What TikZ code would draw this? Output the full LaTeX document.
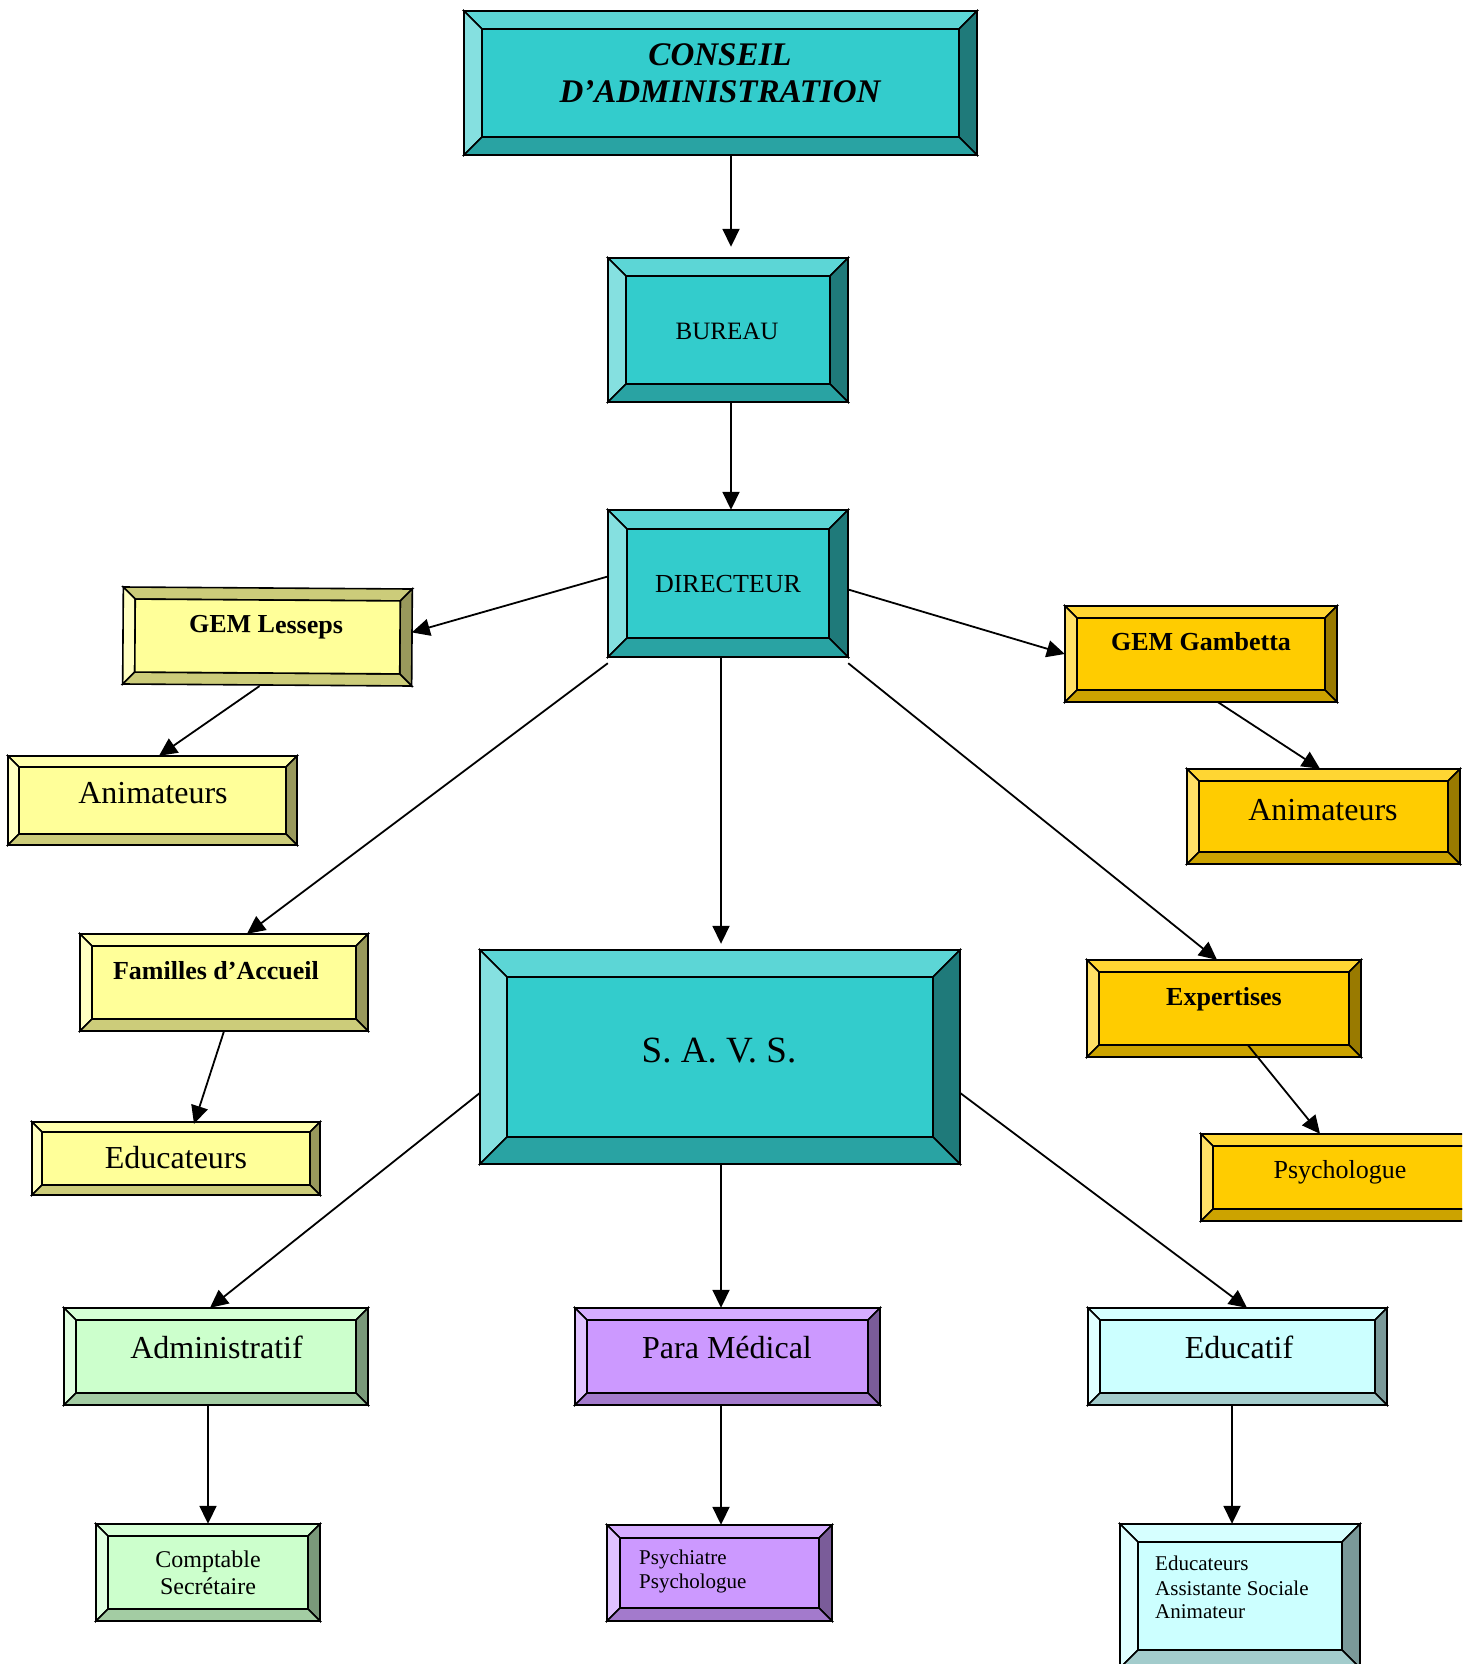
\documentclass[tikz,border=0pt]{standalone}
\usepackage{fontspec}
\setmainfont{Liberation Serif}
\usetikzlibrary{arrows.meta,calc,fit}
\definecolor{tealc}{HTML}{33CCCC}
\definecolor{ylwc}{HTML}{FFFF99}
\definecolor{goldc}{HTML}{FFCC00}
\definecolor{grnc}{HTML}{CCFFCC}
\definecolor{purc}{HTML}{CC99FF}
\definecolor{cync}{HTML}{CCFFFF}
\tikzset{
  bev/.style={draw=black, line width=1.6pt, line join=miter},
  arr/.style={line width=1.8pt, -{Triangle[length=18pt,width=17pt]}},
  lbl/.style={anchor=base, inner sep=0pt},
  lblw/.style={anchor=base west, inner sep=0pt},
  fbig/.style={font=\fontsize{32}{36}\selectfont},
  fmid/.style={font=\fontsize{26}{30}\selectfont},
  fbold/.style={font=\fontsize{26}{30}\selectfont\bfseries},
  fsmall/.style={font=\fontsize{24}{28}\selectfont},
  ftiny/.style={font=\fontsize{21}{24}\selectfont},
}
% #1 name, #2 x1, #3 y1, #4 x2, #5 y2, #6 bevel, #7 colour, #8 top colour
\newcommand\bevbox[8]{%
  \begin{scope}[bev]
    \filldraw[fill=#8] (#2,#3) -- (#4,#3) -- ({#4-#6},{#3+#6}) -- ({#2+#6},{#3+#6}) -- cycle;
    \filldraw[fill=#7!60!white] (#2,#3) -- ({#2+#6},{#3+#6}) -- ({#2+#6},{#5-#6}) -- (#2,#5) -- cycle;
    \filldraw[fill=#7!60!black] (#4,#3) -- (#4,#5) -- ({#4-#6},{#5-#6}) -- ({#4-#6},{#3+#6}) -- cycle;
    \filldraw[fill=#7!80!black] (#2,#5) -- (#4,#5) -- ({#4-#6},{#5-#6}) -- ({#2+#6},{#5-#6}) -- cycle;
    \filldraw[fill=#7] ({#2+#6},{#3+#6}) rectangle ({#4-#6},{#5-#6});
  \end{scope}
  \coordinate (#1-a) at (#2,#3);
  \coordinate (#1-b) at (#4,#5);
  \node[fit=(#1-a)(#1-b), inner sep=0pt] (#1) {};
}
\begin{document}
\begin{tikzpicture}[x=1pt,y=-1pt]
\useasboundingbox[fill=white] (0,0) rectangle (1469,1664);
\begin{scope}
\clip (0,0) rectangle (1462,1664);

% boxes
\bevbox{conseil}{464}{11}{977}{155}{18}{tealc}{tealc!80!white}
\bevbox{bureau}{608}{258}{848}{402}{18}{tealc}{tealc!80!white}
\bevbox{dir}{608}{510}{848}{657}{19}{tealc}{tealc!80!white}
\begin{scope}[rotate around={-0.4:(267,636)}]
\bevbox{lesseps}{123}{588}{412}{685}{12}{ylwc}{ylwc!80!black}
\end{scope}
\bevbox{animL}{8}{756}{297}{845}{11}{ylwc}{ylwc!80!white}
\bevbox{familles}{80}{934}{368}{1031}{12}{ylwc}{ylwc!80!white}
\bevbox{educL}{32}{1122}{320}{1195}{10}{ylwc}{ylwc!80!white}
\bevbox{gambetta}{1065}{606}{1337}{702}{12}{goldc}{goldc!80!white}
\bevbox{animR}{1187}{769}{1460}{864}{12}{goldc}{goldc!80!white}
\bevbox{expertises}{1087}{960}{1361}{1057}{12}{goldc}{goldc!80!white}
\bevbox{psychR}{1201}{1134}{1479}{1221}{12}{goldc}{goldc!80!white}
\bevbox{savs}{480}{950}{960}{1164}{27}{tealc}{tealc!80!white}
\bevbox{admin}{64}{1308}{368}{1405}{12}{grnc}{grnc!80!white}
\bevbox{para}{575}{1308}{880}{1405}{12}{purc}{purc!80!white}
\bevbox{educatif}{1088}{1308}{1387}{1405}{12}{cync}{cync!80!white}
\bevbox{compt}{96}{1524}{320}{1621}{12}{grnc}{grnc!80!white}
\bevbox{psy}{607}{1525}{832}{1621}{13}{purc}{purc!80!white}
\bevbox{educR}{1120}{1524}{1360}{1668}{18}{cync}{cync!80!white}

% texts
\node[lbl, font=\fontsize{33}{37}\selectfont\bfseries\itshape] (conseil-t1) at (720,66) {CONSEIL};
\node[lbl, font=\fontsize{33}{37}\selectfont\bfseries\itshape] (conseil-t2) at (720,103) {D’ADMINISTRATION};
\node[lbl, font=\fontsize{25}{30}\selectfont] (bureau-t) at (727,339) {BUREAU};
\node[lbl, fmid] (dir-t) at (728,592) {DIRECTEUR};
\node[lbl, fbold, rotate=-0.4] (lesseps-t) at (266,633) {GEM Lesseps};
\node[lbl, fbig] (animL-t) at (153,803) {Animateurs};
\node[lbl, fbold] (familles-t) at (216,979) {Familles d’Accueil};
\node[lbl, fbig] (educL-t) at (176,1168) {Educateurs};
\node[lbl, fbold] (gambetta-t) at (1201,650) {GEM Gambetta};
\node[lbl, fbig] (animR-t) at (1323,820) {Animateurs};
\node[lbl, fbold] (expertises-t) at (1224,1005) {Expertises};
\node[lbl, fmid] (psychR-t) at (1340,1178) {Psychologue};
\node[lbl, font=\fontsize{37}{40}\selectfont] (savs-t) at (719,1062) {S. A. V. S.};
\node[lbl, fbig] (admin-t) at (216.5,1358) {Administratif};
\node[lbl, fbig] (para-t) at (727,1358) {Para Médical};
\node[lbl, fbig] (educatif-t) at (1239,1358) {Educatif};
\node[lbl, fsmall] (compt-t1) at (208,1567) {Comptable};
\node[lbl, fsmall] (compt-t2) at (208,1594) {Secrétaire};
\node[lblw, ftiny] (psy-t1) at (639,1564) {Psychiatre};
\node[lblw, ftiny] (psy-t2) at (639,1588) {Psychologue};
\node[lblw, ftiny] (educR-t1) at (1155,1570) {Educateurs};
\node[lblw, ftiny] (educR-t2) at (1155,1595) {Assistante Sociale};
\node[lblw, ftiny] (educR-t3) at (1155,1618) {Animateur};

% connectors
\draw[arr] ($(conseil.south)+(10.5,0)$) -- ($(bureau.north)+(3,-11)$);
\draw[arr] ($(bureau.south)+(3,0)$) -- ($(dir.north)+(3,0)$);
\draw[arr] ($(dir.west)+(0,-7)$) -- ($(lesseps.east)+(0,-4)$);
\draw[arr] ($(dir.east)+(0,6)$) -- (gambetta.west);
\draw[arr] ($(dir.south west)+(0,6)$) -- ($(familles.north)+(23,0)$);
\draw[arr] ($(dir.south)+(-7,0)$) -- ($(savs.north)+(1,-6)$);
\draw[arr] ($(dir.south east)+(0,6)$) -- ($(expertises.north)+(-7,0)$);
\draw[arr] ($(lesseps.south)+(-8,0)$) -- ($(animL.north)+(6.5,0)$);
\draw[arr] ($(gambetta.south)+(17,0)$) -- ($(animR.north)+(-3.5,0)$);
\draw[arr] ($(familles.south)+(0,0)$) -- ($(educL.north)+(18,2)$);
\draw[arr] ($(expertises.south)+(24,-12)$) -- ($(psychR.north)+(-20,0)$);
\draw[arr] ($(savs.west)+(0,36)$) -- ($(admin.north)+(-6,0)$);
\draw[arr] ($(savs.south)+(1,0)$) -- ($(para.north)+(-6.5,0)$);
\draw[arr] ($(savs.east)+(0,36)$) -- ($(educatif.north)+(9.5,0)$);
\draw[arr] ($(admin.south)+(-8,0)$) -- (compt.north);
\draw[arr] ($(para.south)+(-6.5,0)$) -- ($(psy.north)+(1.5,0)$);
\draw[arr] ($(educatif.south)+(-5.5,0)$) -- ($(educR.north)+(-8,0)$);
\end{scope}
\end{tikzpicture}
\end{document}
